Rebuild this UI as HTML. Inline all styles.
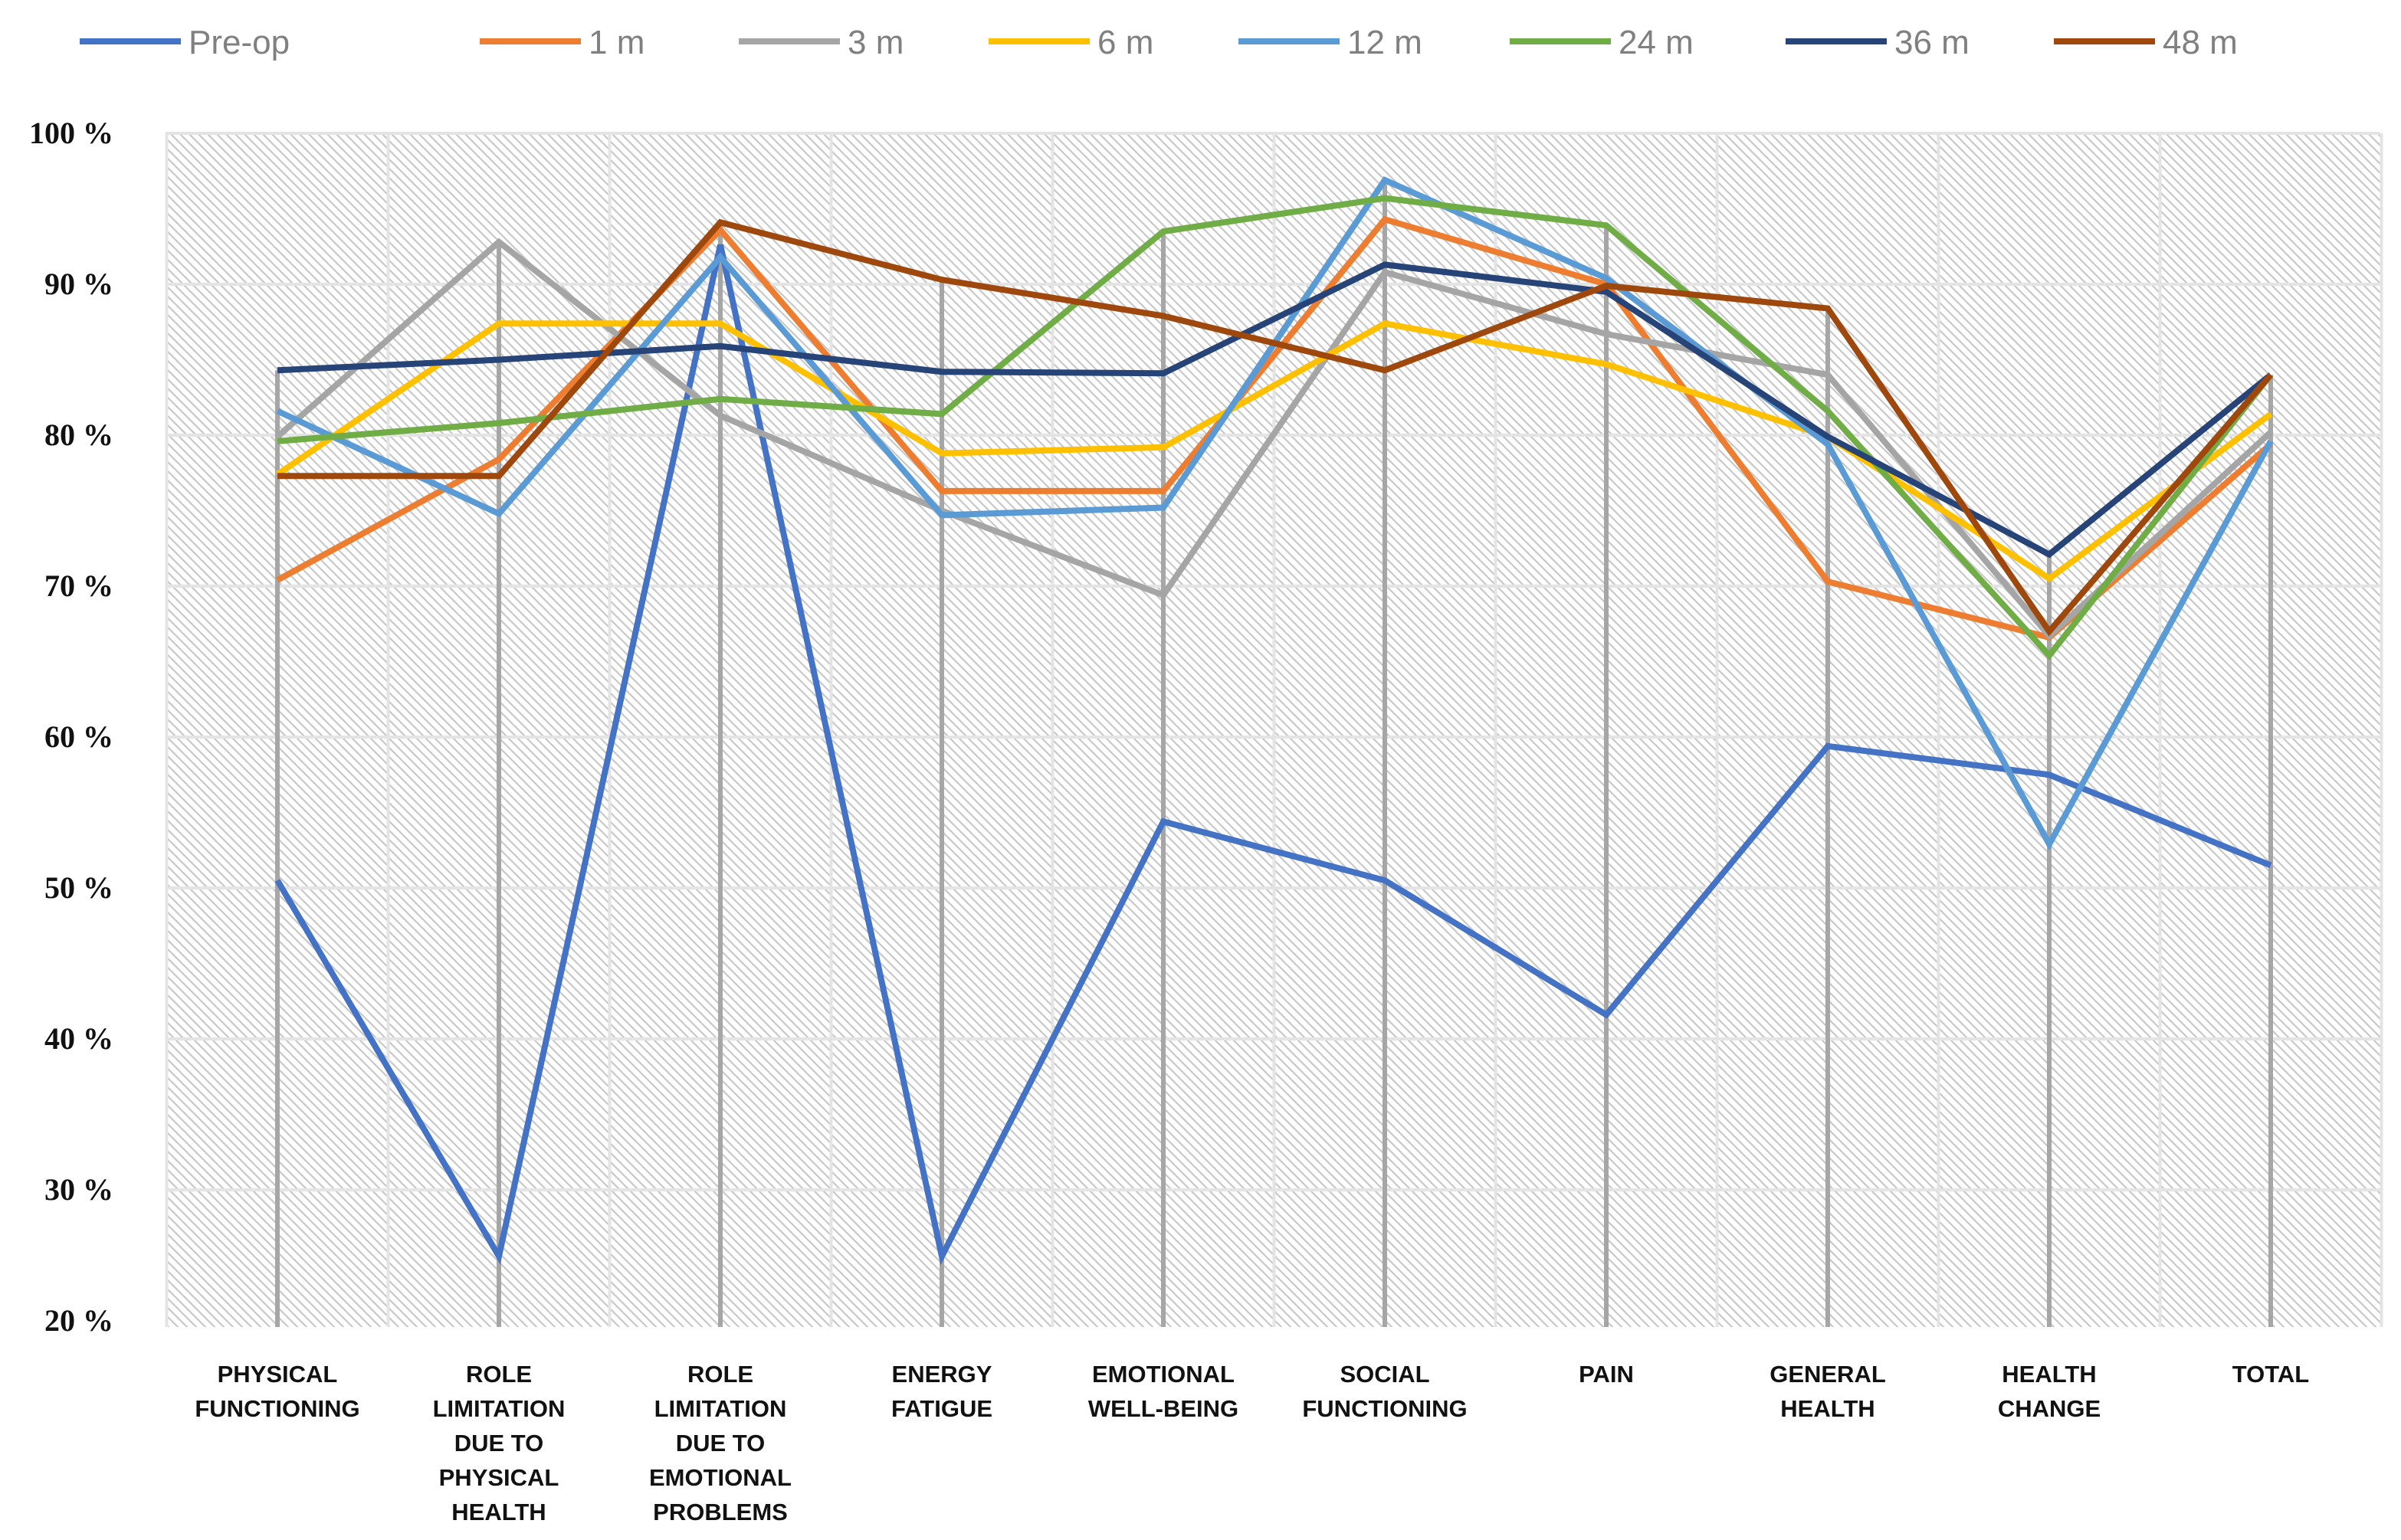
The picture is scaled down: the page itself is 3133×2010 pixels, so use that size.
<!DOCTYPE html>
<html><head><meta charset="utf-8"><style>
html,body{margin:0;padding:0;background:#fff;}
svg{display:block;}
</style></head><body>
<svg id="chart" width="3133" height="2010" viewBox="0 0 3133 2010" xmlns="http://www.w3.org/2000/svg">
<defs>
<pattern id="hatch" patternUnits="userSpaceOnUse" width="12" height="12">
<rect width="12" height="12" fill="#ffffff"/>
<path d="M-3,-3 L15,15 M-3,9 L3,15 M9,-3 L15,3" stroke="#c8c8c8" stroke-width="2.2"/>
</pattern>
</defs>
<rect x="216" y="174" width="2890" height="1558" fill="url(#hatch)"/>
<g id="grid"></g>
<g id="drops"></g>
<g id="lines"></g>
<g id="yLabels"></g>
<g id="xLabels"></g>
<g id="legend"></g>
</svg>
<script>
const categories = [["PHYSICAL","FUNCTIONING"],["ROLE","LIMITATION","DUE TO","PHYSICAL","HEALTH"],["ROLE","LIMITATION","DUE TO","EMOTIONAL","PROBLEMS"],["ENERGY","FATIGUE"],["EMOTIONAL","WELL-BEING"],["SOCIAL","FUNCTIONING"],["PAIN"],["GENERAL","HEALTH"],["HEALTH","CHANGE"],["TOTAL"]];
const seriesNames = ["Pre-op","1 m","3 m","6 m","12 m","24 m","36 m","48 m"];
const seriesColors = ["#4472c4","#ed7d31","#a5a5a5","#ffc000","#5b9bd5","#70ad47","#264478","#9e480e"];
const preop = [50.5,25.6,92.6,25.6,54.4,50.5,41.6,59.4,57.5,51.5];
const m1 = [70.4,78.4,93.6,76.3,76.3,94.3,90,70.3,66.6,79.4];
const m3 = [79.9,92.8,81.3,75,69.4,90.8,86.7,84,66.7,80.2];
const m6 = [77.4,87.4,87.4,78.8,79.2,87.4,84.7,79.9,70.5,81.4];
const m12 = [81.6,74.8,91.8,74.7,75.2,96.9,90.4,79.4,52.9,79.6];
const m24 = [79.6,80.8,82.4,81.4,93.5,95.7,93.9,81.6,65.4,84];
const m36 = [84.3,85,85.9,84.2,84.1,91.3,89.5,79.9,72.1,84];
const m48 = [77.3,77.3,94.1,90.3,87.9,84.3,89.9,88.4,67,84];
const allSeries = [preop,m1,m3,m6,m12,m24,m36,m48];
const yTicks = [100,90,80,70,60,50,40,30,20];

const NS="http://www.w3.org/2000/svg";
const plotTop=174, plotBottom=1732, plotLeft=216, plotRight=3106;
function yScale(v){return plotTop+(100-v)*19.7;}
function xScale(i){return 362+i*289;}
function mk(tag,attrs,parent){const e=document.createElementNS(NS,tag);for(const k in attrs)e.setAttribute(k,attrs[k]);parent.appendChild(e);return e;}

const grid=document.getElementById('grid');
yTicks.forEach(t=>{
  const y=yScale(t); if(y>plotBottom) return;
  const l=mk('line',{x1:plotLeft,x2:plotRight,y1:y,y2:y,stroke:'#e4e4e4','stroke-width':4},grid);
  
  
});
for(let i=0;i<=categories.length;i++){
  const x=xScale(i)-144.5;
  const l=mk('line',{x1:x,x2:x,y1:plotTop,y2:plotBottom,stroke:'#e4e4e4','stroke-width':4},grid);
  
  
}
const drops=document.getElementById('drops');
categories.forEach((c,i)=>{
  let mx=Math.max(...allSeries.map(s=>s[i]));
  const l=mk('line',{x1:xScale(i),x2:xScale(i),y1:yScale(mx),y2:plotBottom,stroke:'#a6a6a6','stroke-width':6},drops);
  
  
});
const lines=document.getElementById('lines');
allSeries.forEach((s,k)=>{
  const pts=s.map((v,i)=>xScale(i)+','+yScale(v)).join(' ');
  const p=mk('polyline',{points:pts,fill:'none',stroke:seriesColors[k],'stroke-width':8,'stroke-linejoin':'miter'},lines);
  
  
});
const yl=document.getElementById('yLabels');
yTicks.forEach(t=>{
  const y=Math.min(yScale(t),1724);
  const tx=mk('text',{x:148,y:y+13,'text-anchor':'end','font-family':'"Liberation Serif",serif','font-weight':'bold','font-size':40,fill:'#111'},yl);
  tx.textContent=t+' %';
  
  
});
const xl=document.getElementById('xLabels');
categories.forEach((c,i)=>{
  const tx=mk('text',{x:xScale(i),y:1804,'text-anchor':'middle','font-family':'"Liberation Sans",sans-serif','font-weight':'bold','font-size':31,fill:'#111'},xl);
  
  
  c.forEach((ln,j)=>{const ts=mk('tspan',{x:xScale(i),dy:j===0?0:45},tx);ts.textContent=ln;});
});
const lg=document.getElementById('legend');
const legX=[104,626,964,1290,1616,1970,2330,2680];
seriesNames.forEach((n,k)=>{
  const g=mk('g',{},lg);
  
  
  mk('line',{x1:legX[k],x2:legX[k]+132,y1:54,y2:54,stroke:seriesColors[k],'stroke-width':8},g);
  const t=mk('text',{x:legX[k]+142,y:70,'font-family':'"Liberation Sans",sans-serif','font-size':44,fill:'#808080'},g);
  t.textContent=n;
});
</script>
</body></html>
